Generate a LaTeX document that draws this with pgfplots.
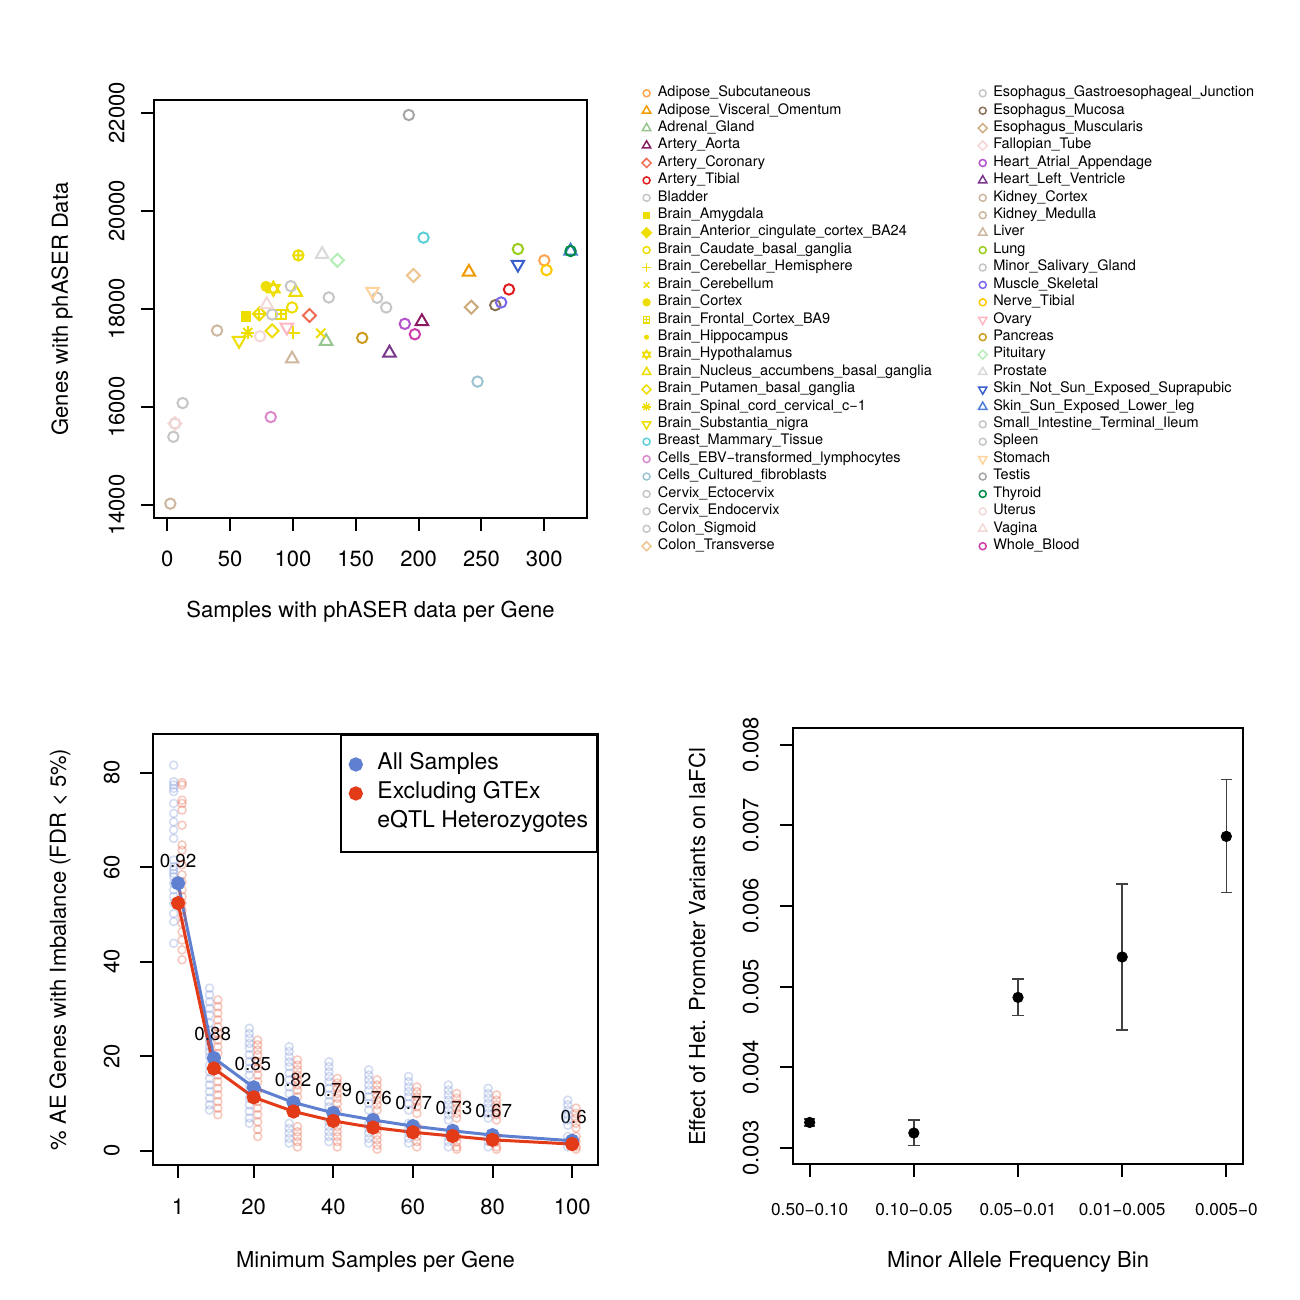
\documentclass[border=0pt]{standalone}
\usepackage{pgfplots}
\pgfplotsset{compat=1.18}
\usepackage{fontspec}
\setmainfont{TeX Gyre Heros}
\usetikzlibrary{plotmarks}

\definecolor{cAdiSub}{HTML}{FFA54F}
\definecolor{cAdiVis}{HTML}{EE9A00}
\definecolor{cAdrenal}{HTML}{98C48F}
\definecolor{cAorta}{HTML}{8B1C62}
\definecolor{cCoronary}{HTML}{EE6A50}
\definecolor{cTibial}{HTML}{E31A1C}
\definecolor{cGrey}{HTML}{C6C6C6}
\definecolor{cBrain}{HTML}{EEDD00}
\definecolor{cBreast}{HTML}{5CCFD6}
\definecolor{cEBV}{HTML}{DD88CC}
\definecolor{cFib}{HTML}{9DC3D3}
\definecolor{cColTr}{HTML}{EEC591}
\definecolor{cEsoMuc}{HTML}{8B7355}
\definecolor{cEsoMus}{HTML}{CDAA7D}
\definecolor{cFallop}{HTML}{F5D5D5}
\definecolor{cHeartAA}{HTML}{B452CD}
\definecolor{cHeartLV}{HTML}{7A378B}
\definecolor{cTan}{HTML}{CDB79E}
\definecolor{cLung}{HTML}{9ACD1A}
\definecolor{cMuscle}{HTML}{7A67EE}
\definecolor{cNerve}{HTML}{FFC800}
\definecolor{cOvary}{HTML}{FFB6C1}
\definecolor{cPancreas}{HTML}{CD9B1D}
\definecolor{cPituitary}{HTML}{B4EEB4}
\definecolor{cProstate}{HTML}{D9D9D9}
\definecolor{cSkinNot}{HTML}{3A5FCD}
\definecolor{cSkinSun}{HTML}{4D7FD6}
\definecolor{cStomach}{HTML}{FFD39B}
\definecolor{cTestis}{HTML}{A6A6A6}
\definecolor{cThyroid}{HTML}{008B45}
\definecolor{cUterus}{HTML}{F2D9D6}
\definecolor{cBlood}{HTML}{CC3FAA}
\definecolor{cBlue}{HTML}{5F7FD0}
\definecolor{cRed}{HTML}{E33A18}

\pgfplotsset{
 rstyle/.style={scale only axis, anchor=south west,
   axis line style={line width=1pt}, tick style={line width=1pt, black},
   tick align=outside, major tick length=6.5pt, tick pos=left,
   scaled x ticks=false, scaled y ticks=false,
   font=\fontsize{11}{13}\selectfont,
   xticklabel style={anchor=north, inner sep=0pt, yshift=-10pt},
   yticklabel style={xshift=-8pt, rotate=90, anchor=south, inner sep=0pt}},
 sO/.style={only marks, mark=o, mark size=2.6pt, line width=1pt, color=#1},
 sF/.style={only marks, mark=*, mark size=2.6pt, line width=0.4pt, color=#1},
 sT/.style={only marks, mark=triangle, mark size=3.6pt, line width=1pt, color=#1},
 sV/.style={only marks, mark=triangle, mark size=3.6pt, mark options={rotate=180}, line width=1pt, color=#1},
 sD/.style={only marks, mark=square, mark size=2.3pt, mark options={rotate=45}, line width=1pt, color=#1},
 sS/.style={only marks, mark=square, mark size=2.4pt, line width=1pt, color=#1},
 sSF/.style={only marks, mark=square*, mark size=2.4pt, line width=0.4pt, color=#1},
 sP/.style={only marks, mark=+, mark size=3.3pt, line width=1pt, color=#1},
 sX/.style={only marks, mark=x, mark size=3.2pt, line width=1pt, color=#1},
 sOP/.style={only marks, mark=oplus, mark size=2.6pt, line width=1pt, color=#1},
 lO/.style={mark=o, mark size=1.75pt, line width=0.75pt, color=#1},
 lF/.style={mark=*, mark size=1.9pt, line width=0.3pt, color=#1},
 lSm/.style={mark=*, mark size=1.1pt, line width=0.3pt, color=#1},
 lT/.style={mark=triangle, mark size=2.4pt, line width=0.75pt, color=#1},
 lV/.style={mark=triangle, mark size=2.4pt, mark options={rotate=180}, line width=0.75pt, color=#1},
 lD/.style={mark=square, mark size=1.6pt, mark options={rotate=45}, line width=0.75pt, color=#1},
 lDF/.style={mark=square*, mark size=1.9pt, mark options={rotate=45}, line width=0.3pt, color=#1},
 lSF/.style={mark=square*, mark size=1.5pt, line width=0.3pt, color=#1},
 lP/.style={mark=+, mark size=2.2pt, line width=0.75pt, color=#1},
 lX/.style={mark=x, mark size=2pt, line width=0.75pt, color=#1},
 legax/.style={scale only axis, width=5pt, height=5pt, hide axis, anchor=north west,
   xmin=0, xmax=1, ymin=0, ymax=1, legend cell align=left,
   legend image code/.code={\draw[##1] plot coordinates {(0pt,0pt)};},
   legend style={at={(0,1)}, anchor=north west, draw=none, fill=none, inner sep=0pt,
     row sep=0pt, column sep=3pt, font=\fontsize{7.25}{8.7}\selectfont,
     nodes={inner sep=0pt, text height=6pt, text depth=2.71pt}}},
 faint/.style={forget plot, only marks, mark=o, mark size=2pt, line width=0.8pt, color=#1, opacity=0.27},
}

\begin{document}
\begin{tikzpicture}
\useasboundingbox (0,0) rectangle (650pt,650pt);

% ---------------- top-left scatter ----------------
\begin{axis}[rstyle, at={(77pt,391pt)}, width=216.5pt, height=209pt,
  xmin=-10.6, xmax=334, ymin=13741, ymax=22259,
  xtick={0,50,100,150,200,250,300}, xticklabels={0,50,100,150,200,250,300},
  ytick={14000,16000,18000,20000,22000}, yticklabels={14000,16000,18000,20000,22000},
  xlabel={Samples with phASER data per Gene},
  xlabel style={at={(axis description cs:0.5,-0.225)}, anchor=center},
  ylabel={Genes with phASER Data},
  ylabel style={at={(axis description cs:-0.2125,0.5)}, anchor=center}]
\addplot[sO=cAdiSub] coordinates {(300.0,18991)};
\addplot[sT=cAdiVis] coordinates {(240.0,18752)};
\addplot[sT=cAdrenal] coordinates {(126.4,17342)};
\addplot[sT=cAorta] coordinates {(202.6,17745)};
\addplot[sD=cCoronary] coordinates {(113.1,17867)};
\addplot[sO=cTibial] coordinates {(271.9,18398)};
\addplot[sO=cGrey] coordinates {(4.8,15395)};
\addplot[sSF=cBrain] coordinates {(62.4,17847)};
\addplot[sD=cBrain] coordinates {(73.3,17902)};
\addplot[sP=cBrain] coordinates {(73.3,17902)};
\addplot[sO=cBrain] coordinates {(99.3,18031)};
\addplot[sP=cBrain] coordinates {(100.3,17513)};
\addplot[sX=cBrain] coordinates {(122.1,17506)};
\addplot[sF=cBrain] coordinates {(78.6,18460)};
\addplot[sS=cBrain] coordinates {(90.5,17888)};
\addplot[sP=cBrain, mark size=2.4pt] coordinates {(90.5,17888)};
\addplot[sOP=cBrain] coordinates {(104.3,19093)};
\addplot[sT=cBrain] coordinates {(84.4,18413)};
\addplot[sV=cBrain] coordinates {(84.4,18413)};
\addplot[sT=cBrain] coordinates {(102.2,18343)};
\addplot[sD=cBrain] coordinates {(83.4,17555)};
\addplot[sP=cBrain] coordinates {(64.0,17520)};
\addplot[sX=cBrain] coordinates {(64.0,17520)};
\addplot[sV=cBrain] coordinates {(57.1,17356)};
\addplot[sO=cBreast] coordinates {(203.9,19454)};
\addplot[sO=cEBV] coordinates {(82.3,15798)};
\addplot[sO=cFib] coordinates {(246.9,16520)};
\addplot[sO=cGrey] coordinates {(6.1,15667)};
\addplot[sO=cGrey] coordinates {(12.2,16083)};
\addplot[sO=cGrey] coordinates {(128.5,18235)};
\addplot[sD=cColTr] coordinates {(195.9,18684)};
\addplot[sO=cGrey] coordinates {(167.0,18228)};
\addplot[sO=cEsoMuc] coordinates {(261.0,18078)};
\addplot[sD=cEsoMus] coordinates {(241.9,18037)};
\addplot[sD=cFallop] coordinates {(6.1,15667)};
\addplot[sO=cHeartAA] coordinates {(189.0,17697)};
\addplot[sT=cHeartLV] coordinates {(176.8,17105)};
\addplot[sO=cTan] coordinates {(39.6,17561)};
\addplot[sO=cTan] coordinates {(2.4,14033)};
\addplot[sT=cTan] coordinates {(99.3,16983)};
\addplot[sO=cLung] coordinates {(279.0,19222)};
\addplot[sO=cGrey] coordinates {(83.4,17888)};
\addplot[sO=cMuscle] coordinates {(265.7,18133)};
\addplot[sO=cNerve] coordinates {(301.8,18793)};
\addplot[sV=cOvary] coordinates {(95.1,17628)};
\addplot[sO=cPancreas] coordinates {(155.1,17411)};
\addplot[sD=cPituitary] coordinates {(135.4,18991)};
\addplot[sT=cProstate] coordinates {(123.2,19113)};
\addplot[sV=cSkinNot] coordinates {(279.0,18909)};
\addplot[sT=cSkinSun] coordinates {(320.9,19181)};
\addplot[sO=cGrey] coordinates {(98.3,18466)};
\addplot[sO=cGrey] coordinates {(174.2,18031)};
\addplot[sV=cStomach] coordinates {(163.3,18357)};
\addplot[sO=cTestis] coordinates {(192.2,21953)};
\addplot[sO=cThyroid] coordinates {(320.9,19181)};
\addplot[sO=cUterus] coordinates {(73.8,17445)};
\addplot[sT=cUterus] coordinates {(79.1,18092)};
\addplot[sO=cBlood] coordinates {(197.0,17485)};
\end{axis}

% ---------------- legend, left column ----------------
\begin{axis}[legax, at={(320.4pt,607.9pt)}]
\addlegendimage{lO=cAdiSub}\addlegendentry{Adipose\_Subcutaneous}
\addlegendimage{lT=cAdiVis}\addlegendentry{Adipose\_Visceral\_Omentum}
\addlegendimage{lT=cAdrenal}\addlegendentry{Adrenal\_Gland}
\addlegendimage{lT=cAorta}\addlegendentry{Artery\_Aorta}
\addlegendimage{lD=cCoronary}\addlegendentry{Artery\_Coronary}
\addlegendimage{lO=cTibial}\addlegendentry{Artery\_Tibial}
\addlegendimage{lO=cGrey}\addlegendentry{Bladder}
\addlegendimage{lSF=cBrain}\addlegendentry{Brain\_Amygdala}
\addlegendimage{lDF=cBrain}\addlegendentry{Brain\_Anterior\_cingulate\_cortex\_BA24}
\addlegendimage{lO=cBrain}\addlegendentry{Brain\_Caudate\_basal\_ganglia}
\addlegendimage{lP=cBrain}\addlegendentry{Brain\_Cerebellar\_Hemisphere}
\addlegendimage{lX=cBrain}\addlegendentry{Brain\_Cerebellum}
\addlegendimage{lF=cBrain}\addlegendentry{Brain\_Cortex}
\addlegendimage{legend image code/.code={\draw[mark=square, mark size=1.6pt, line width=0.7pt, color=cBrain] plot coordinates {(0pt,0pt)}; \draw[mark=+, mark size=1.6pt, line width=0.6pt, color=cBrain] plot coordinates {(0pt,0pt)};}}\addlegendentry{Brain\_Frontal\_Cortex\_BA9}
\addlegendimage{lSm=cBrain}\addlegendentry{Brain\_Hippocampus}
\addlegendimage{legend image code/.code={\draw[mark=triangle, mark size=2.2pt, line width=0.7pt, color=cBrain] plot coordinates {(0pt,0pt)}; \draw[mark=triangle, mark size=2.2pt, mark options={rotate=180}, line width=0.7pt, color=cBrain] plot coordinates {(0pt,0pt)};}}\addlegendentry{Brain\_Hypothalamus}
\addlegendimage{lT=cBrain}\addlegendentry{Brain\_Nucleus\_accumbens\_basal\_ganglia}
\addlegendimage{lD=cBrain}\addlegendentry{Brain\_Putamen\_basal\_ganglia}
\addlegendimage{legend image code/.code={\draw[mark=+, mark size=2.2pt, line width=0.7pt, color=cBrain] plot coordinates {(0pt,0pt)}; \draw[mark=x, mark size=2.2pt, line width=0.7pt, color=cBrain] plot coordinates {(0pt,0pt)};}}\addlegendentry{Brain\_Spinal\_cord\_cervical\_c−1}
\addlegendimage{lV=cBrain}\addlegendentry{Brain\_Substantia\_nigra}
\addlegendimage{lO=cBreast}\addlegendentry{Breast\_Mammary\_Tissue}
\addlegendimage{lO=cEBV}\addlegendentry{Cells\_EBV−transformed\_lymphocytes}
\addlegendimage{lO=cFib}\addlegendentry{Cells\_Cultured\_fibroblasts}
\addlegendimage{lO=cGrey}\addlegendentry{Cervix\_Ectocervix}
\addlegendimage{lO=cGrey}\addlegendentry{Cervix\_Endocervix}
\addlegendimage{lO=cGrey}\addlegendentry{Colon\_Sigmoid}
\addlegendimage{lD=cColTr}\addlegendentry{Colon\_Transverse}
\end{axis}

% ---------------- legend, right column ----------------
\begin{axis}[legax, at={(488.9pt,607.9pt)}]
\addlegendimage{lO=cGrey}\addlegendentry{Esophagus\_Gastroesophageal\_Junction}
\addlegendimage{lO=cEsoMuc}\addlegendentry{Esophagus\_Mucosa}
\addlegendimage{lD=cEsoMus}\addlegendentry{Esophagus\_Muscularis}
\addlegendimage{lD=cFallop}\addlegendentry{Fallopian\_Tube}
\addlegendimage{lO=cHeartAA}\addlegendentry{Heart\_Atrial\_Appendage}
\addlegendimage{lT=cHeartLV}\addlegendentry{Heart\_Left\_Ventricle}
\addlegendimage{lO=cTan}\addlegendentry{Kidney\_Cortex}
\addlegendimage{lO=cTan}\addlegendentry{Kidney\_Medulla}
\addlegendimage{lT=cTan}\addlegendentry{Liver}
\addlegendimage{lO=cLung}\addlegendentry{Lung}
\addlegendimage{lO=cGrey}\addlegendentry{Minor\_Salivary\_Gland}
\addlegendimage{lO=cMuscle}\addlegendentry{Muscle\_Skeletal}
\addlegendimage{lO=cNerve}\addlegendentry{Nerve\_Tibial}
\addlegendimage{lV=cOvary}\addlegendentry{Ovary}
\addlegendimage{lO=cPancreas}\addlegendentry{Pancreas}
\addlegendimage{lD=cPituitary}\addlegendentry{Pituitary}
\addlegendimage{lT=cProstate}\addlegendentry{Prostate}
\addlegendimage{lV=cSkinNot}\addlegendentry{Skin\_Not\_Sun\_Exposed\_Suprapubic}
\addlegendimage{lT=cSkinSun}\addlegendentry{Skin\_Sun\_Exposed\_Lower\_leg}
\addlegendimage{lO=cGrey}\addlegendentry{Small\_Intestine\_Terminal\_Ileum}
\addlegendimage{lO=cGrey}\addlegendentry{Spleen}
\addlegendimage{lV=cStomach}\addlegendentry{Stomach}
\addlegendimage{lO=cTestis}\addlegendentry{Testis}
\addlegendimage{lO=cThyroid}\addlegendentry{Thyroid}
\addlegendimage{lO=cUterus}\addlegendentry{Uterus}
\addlegendimage{lT=cUterus}\addlegendentry{Vagina}
\addlegendimage{lO=cBlood}\addlegendentry{Whole\_Blood}
\end{axis}

% ---------------- bottom-left ----------------
\begin{axis}[rstyle, at={(76.5pt,67.5pt)}, width=222.5pt, height=215.5pt,
  xmin=-5.3, xmax=106.5, ymin=-3.03, ymax=88.2,
  xtick={1,20,40,60,80,100}, xticklabels={1,20,40,60,80,100},
  ytick={0,20,40,60,80}, yticklabels={0,20,40,60,80},
  xticklabel style={yshift=-0.5pt}, yticklabel style={yshift=2pt},
  xlabel={Minimum Samples per Gene},
  xlabel style={at={(axis description cs:0.5,-0.225)}, anchor=center},
  ylabel={\% AE Genes with Imbalance (FDR \textless{} 5\%)},
  ylabel style={at={(axis description cs:-0.209,0.5)}, anchor=center},
  legend cell align=left,
  legend image code/.code={\draw[#1] plot coordinates {(0pt,0pt)};},
  legend style={at={(1,1)}, anchor=north east, draw=black, line width=1pt, fill=white,
    inner xsep=4.5pt, inner ysep=7.5pt, row sep=0pt, column sep=8pt,
    font=\fontsize{11.5}{13.5}\selectfont,
    nodes={inner sep=0pt, text height=10pt, text depth=4.5pt}}]
\addplot[faint=cBlue] coordinates {
(-0.1,81.6)(-0.1,78.1)(-0.1,77.4)(-0.1,76.7)(-0.1,76.0)(-0.1,73.5)(-0.1,71.4)(-0.1,69.6)(-0.1,67.9)(-0.1,66.1)(-0.1,61.5)(-0.1,60.1)(-0.1,59.4)(-0.1,58.7)(-0.1,58.0)(-0.1,56.6)(-0.1,55.2)(-0.1,53.8)(-0.1,52.4)(-0.1,50.2)(-0.1,48.5)(-0.1,43.9)
(8.9,34.4)(8.9,33.0)(8.9,31.5)(8.9,30.1)(8.9,28.7)(8.9,27.0)(8.9,25.5)(8.9,24.1)(8.9,23.1)(8.9,22.0)(8.9,21.0)(8.9,19.9)(8.9,18.1)(8.9,16.7)(8.9,15.3)(8.9,13.9)(8.9,12.5)(8.9,11.1)(8.9,9.7)(8.9,8.6)
(18.9,25.9)(18.9,24.8)(18.9,23.8)(18.9,22.7)(18.9,21.7)(18.9,20.3)(18.9,18.8)(18.9,17.4)(18.9,16.0)(18.9,13.9)(18.9,12.5)(18.9,11.1)(18.9,9.7)(18.9,8.3)(18.9,6.9)(18.9,5.8)
(28.9,22.0)(28.9,21.0)(28.9,19.9)(28.9,18.8)(28.9,17.8)(28.9,16.4)(28.9,15.0)(28.9,13.5)(28.9,12.1)(28.9,5.8)(28.9,4.7)(28.9,3.7)(28.9,2.6)(28.9,1.6)
(38.9,18.8)(38.9,17.8)(38.9,16.7)(38.9,15.7)(38.9,14.6)(38.9,13.2)(38.9,11.8)(38.9,10.4)(38.9,9.3)(38.9,6.1)(38.9,5.1)(38.9,4.0)(38.9,3.0)(38.9,1.9)
(48.9,17.1)(48.9,16.0)(48.9,15.0)(48.9,13.9)(48.9,12.8)(48.9,11.4)(48.9,10.0)(48.9,8.6)(48.9,5.8)(48.9,4.7)(48.9,3.7)(48.9,2.6)(48.9,1.6)
(58.9,15.7)(58.9,14.6)(58.9,13.5)(58.9,12.5)(58.9,11.4)(58.9,10.0)(58.9,8.6)(58.9,5.8)(58.9,4.7)(58.9,3.7)(58.9,2.6)(58.9,1.6)
(68.9,13.9)(68.9,12.8)(68.9,11.8)(68.9,10.7)(68.9,9.7)(68.9,8.6)(68.9,7.6)(68.9,6.5)(68.9,3.0)(68.9,1.9)(68.9,0.8)
(78.9,13.2)(78.9,12.1)(78.9,11.1)(78.9,10.0)(78.9,9.0)(78.9,7.9)(78.9,6.9)(78.9,3.0)(78.9,1.9)(78.9,0.8)
(98.9,10.7)(98.9,9.7)(98.9,8.6)(98.9,7.6)(98.9,6.5)(98.9,5.4)(98.9,3.0)(98.9,1.9)(98.9,0.8)
};
\addplot[faint=cRed] coordinates {
(2,77.9)(2,77.4)(2,74.2)(2,73.5)(2,72.1)(2,68.9)(2,64.7)(2,63.6)(2,60.5)(2,58.4)(2,56.9)(2,55.2)(2,53.8)(2,52.4)(2,50.9)(2,49.5)(2,48.1)(2,46.3)(2,44.6)(2,42.5)(2,40.4)
(11,31.9)(11,30.5)(11,29.1)(11,27.7)(11,26.2)(11,24.8)(11,23.4)(11,22.0)(11,20.6)(11,17.4)(11,16.0)(11,14.6)(11,13.2)(11,11.8)(11,10.4)(11,9.0)(11,7.6)
(21,23.4)(21,22.4)(21,21.3)(21,20.3)(21,18.8)(21,17.4)(21,16.0)(21,14.6)(21,12.8)(21,10.4)(21,9.0)(21,7.6)(21,6.1)(21,4.5)(21,3.0)
(31,19.2)(31,18.1)(31,17.1)(31,16.0)(31,15.0)(31,13.9)(31,12.8)(31,11.4)(31,5.1)(31,4.0)(31,3.0)(31,1.9)(31,0.8)
(41,15.3)(41,14.3)(41,13.2)(41,12.1)(41,11.1)(41,10.0)(41,8.6)(41,5.1)(41,4.0)(41,3.0)(41,1.9)(41,0.8)
(51,15.0)(51,13.9)(51,12.8)(51,11.8)(51,10.7)(51,9.7)(51,8.6)(51,5.4)(51,4.4)(51,3.3)(51,2.3)(51,1.2)(51,0.3)
(61,13.5)(61,12.5)(61,11.4)(61,10.4)(61,9.3)(61,7.9)(61,5.1)(61,4.0)(61,3.0)(61,1.9)(61,0.8)
(71,12.1)(71,11.1)(71,10.0)(71,9.0)(71,7.9)(71,6.9)(71,3.0)(71,1.9)(71,0.8)(71,0.3)
(81,11.8)(81,10.7)(81,9.7)(81,8.6)(81,7.6)(81,6.5)(81,3.0)(81,1.9)(81,0.8)(81,0.3)
(101,9.0)(101,7.9)(101,6.9)(101,5.8)(101,4.8)(101,3.0)(101,1.9)(101,0.8)(101,0.3)
};
\addplot[color=cBlue, line width=1.5pt, mark=*, mark size=2.8pt] coordinates {
(1,56.6)(10,19.6)(20,13.4)(30,10.2)(40,8.0)(50,6.5)(60,5.2)(70,4.2)(80,3.3)(100,2.1)};
\addlegendentry{All Samples}
\addplot[color=cRed, line width=1.5pt, mark=*, mark size=2.8pt] coordinates {
(1,52.4)(10,17.4)(20,11.3)(30,8.3)(40,6.3)(50,4.9)(60,3.9)(70,3.1)(80,2.3)(100,1.4)};
\addlegendentry{Excluding GTEx}
\addlegendimage{empty legend}
\addlegendentry{eQTL Heterozygotes}
\node[font=\fontsize{9.4}{11}\selectfont] at (axis cs:1,61.3) {0.92};
\node[font=\fontsize{9.4}{11}\selectfont] at (axis cs:9.7,24.6) {0.88};
\node[font=\fontsize{9.4}{11}\selectfont] at (axis cs:19.8,18.3) {0.85};
\node[font=\fontsize{9.4}{11}\selectfont] at (axis cs:29.9,15.0) {0.82};
\node[font=\fontsize{9.4}{11}\selectfont] at (axis cs:40.1,12.8) {0.79};
\node[font=\fontsize{9.4}{11}\selectfont] at (axis cs:50.1,11.1) {0.76};
\node[font=\fontsize{9.4}{11}\selectfont] at (axis cs:60.2,10.0) {0.77};
\node[font=\fontsize{9.4}{11}\selectfont] at (axis cs:70.3,9.1) {0.73};
\node[font=\fontsize{9.4}{11}\selectfont] at (axis cs:80.3,8.3) {0.67};
\node[font=\fontsize{9.4}{11}\selectfont] at (axis cs:100.4,7.2) {0.6};
\end{axis}

% ---------------- bottom-right ----------------
\begin{axis}[rstyle, at={(396.5pt,68pt)}, width=225pt, height=218pt,
  xmin=0.84, xmax=5.16, ymin=0.002802, ymax=0.008207,
  xtick={1,2,3,4,5}, xticklabels={0.50−0.10,0.10−0.05,0.05−0.01,0.01−0.005,0.005−0},
  xticklabel style={font=\fontsize{8.6}{10}\selectfont, yshift=-3pt},
  ytick={0.003,0.004,0.005,0.006,0.007,0.008},
  yticklabels={0.003,0.004,0.005,0.006,0.007,0.008},
  yticklabel style={yshift=2.5pt},
  xlabel={Minor Allele Frequency Bin},
  xlabel style={at={(axis description cs:0.5,-0.225)}, anchor=center},
  ylabel={Effect of Het. Promoter Variants on laFCl},
  ylabel style={at={(axis description cs:-0.213,0.498)}, anchor=center}]
\addplot[only marks, mark=*, mark size=2.6pt, color=black,
  error bars/.cd, y dir=both, y explicit,
  error bar style={line width=0.8pt, color=black!75},
  error mark options={rotate=90, mark size=2.9pt, line width=0.8pt, color=black!75}]
 coordinates {
 (1,0.003317) += (0,0.000043) -= (0,0.000044)
 (2,0.003186) += (0,0.000161) -= (0,0.000157)
 (3,0.004867) += (0,0.000228) -= (0,0.000223)
 (4,0.005368) += (0,0.000908) -= (0,0.000902)
 (5,0.006863) += (0,0.000703) -= (0,0.000695)
 };
\end{axis}
\end{tikzpicture}
\end{document}
